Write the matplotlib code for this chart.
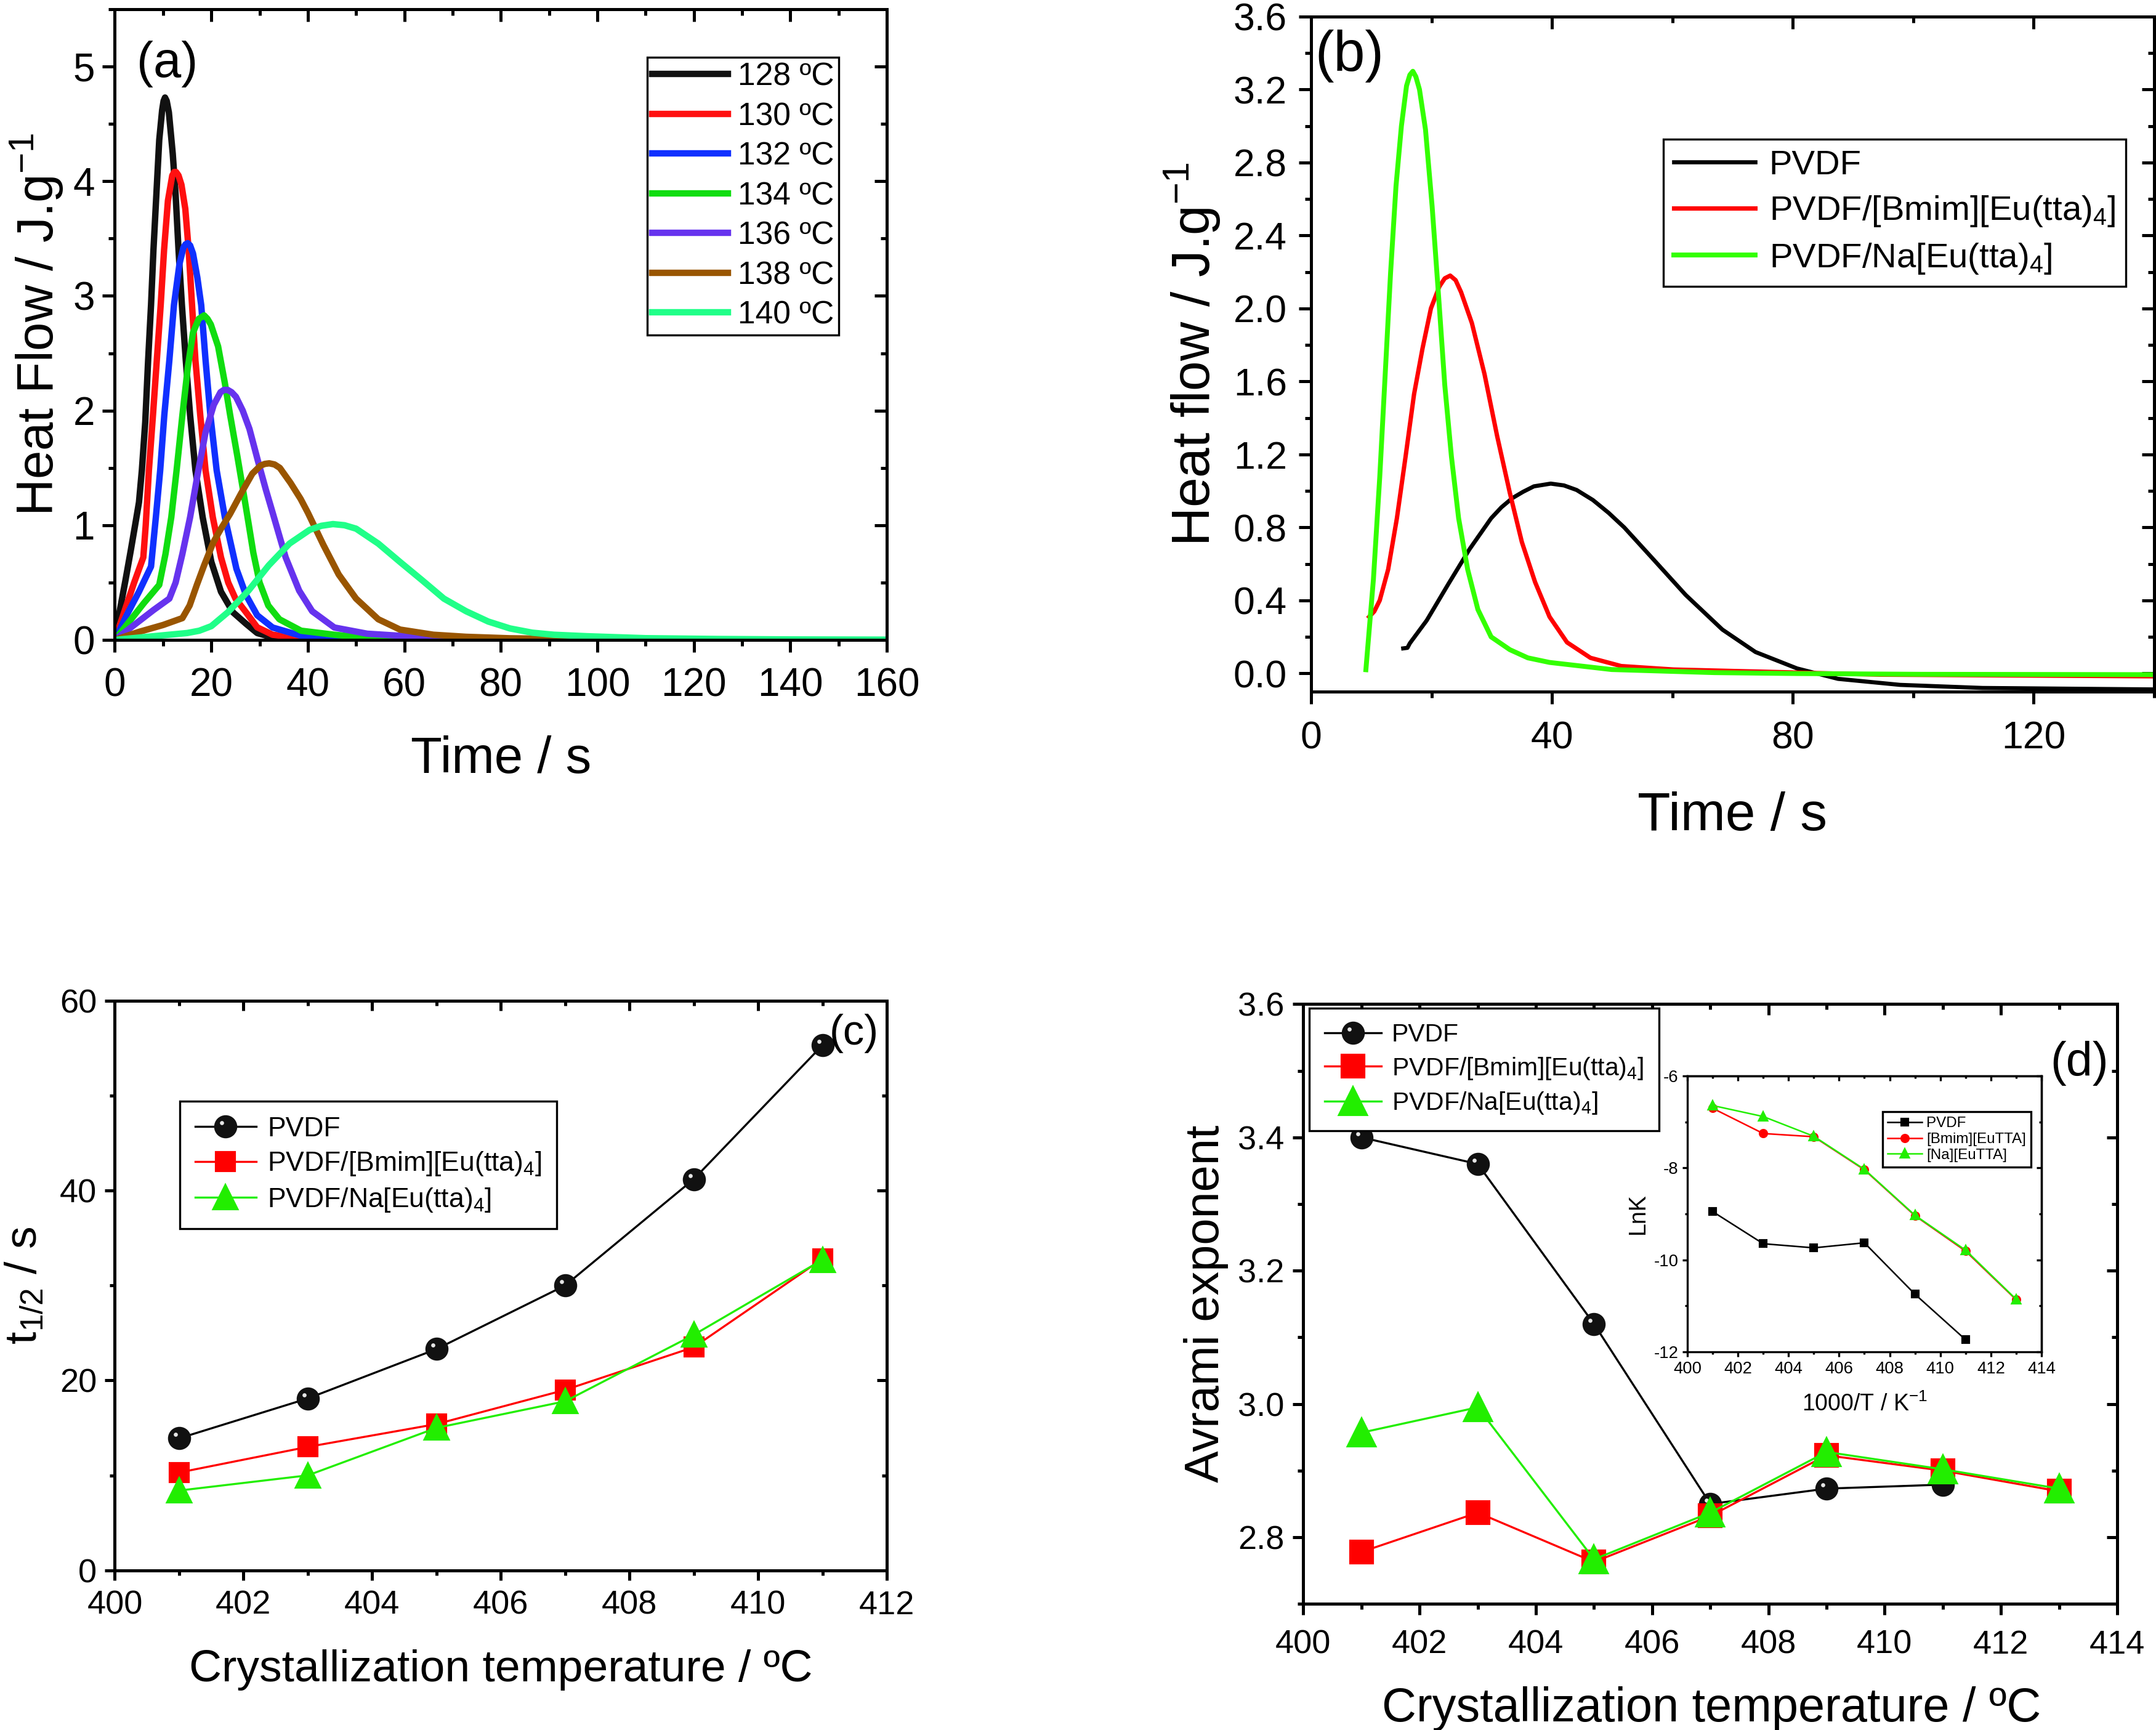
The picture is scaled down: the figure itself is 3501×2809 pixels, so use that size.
import matplotlib
matplotlib.use('Agg')
import matplotlib.pyplot as plt
from matplotlib.ticker import MultipleLocator, NullFormatter
from matplotlib.path import Path
from matplotlib.legend_handler import HandlerTuple

plt.rcParams['font.family'] = ['Liberation Sans', 'DejaVu Sans']
plt.rcParams['mathtext.fontset'] = 'custom'
plt.rcParams['mathtext.rm'] = 'Liberation Sans'
plt.rcParams['mathtext.it'] = 'Liberation Sans:italic'
plt.rcParams['mathtext.bf'] = 'Liberation Sans:bold'
plt.rcParams['mathtext.default'] = 'regular'
plt.rcParams['axes.unicode_minus'] = False

# ---- (a) isothermal DSC exotherms ----
t128 = [0, 1, 2.2, 3.3, 4.4, 5.0, 5.6, 6.3, 6.9, 7.5, 8.0, 8.6, 9.2, 9.8, 10.1, 10.4, 10.75, 11.2, 12.0, 12.6, 13.2,
        13.9, 14.7, 15.6, 16.7, 18.2, 20, 22, 24.5, 27.2, 29.5, 32.7, 40, 60, 125]
q128 = [0, 0.25, 0.52, 0.78, 1.05, 1.2, 1.48, 1.9, 2.44, 2.92, 3.4, 3.88, 4.36, 4.62, 4.7, 4.73, 4.7, 4.6, 4.24, 3.88, 3.4,
        2.92, 2.44, 1.96, 1.48, 1.07, 0.68, 0.42, 0.24, 0.14, 0.06, 0.02, 0.006, 0.002, 0]
t130 = [0, 2, 4, 5.9, 6.4, 7.06, 7.9, 8.7, 9.5, 10.2, 11.0, 11.9, 12.3, 12.7, 13.2, 13.8, 14.6, 15.3, 16.0, 16.7, 17.7,
        18.8, 20.3, 22, 23.5, 25, 27.2, 29.5, 32.7, 38.6, 50, 125]
q130 = [0, 0.25, 0.5, 0.72, 1.0, 1.48, 1.96, 2.44, 2.92, 3.4, 3.83, 4.05, 4.08, 4.08, 4.05, 3.97, 3.76, 3.4, 2.92, 2.44,
        1.96, 1.48, 1.07, 0.72, 0.5, 0.36, 0.24, 0.11, 0.045, 0.014, 0.004, 0]
t132 = [0, 2.5, 5, 7.5, 8.5, 9.4, 10.25, 11.3, 12.25, 13.4, 14.2, 14.65, 15.1, 15.6, 16.2, 17.1, 17.9, 18.8, 19.8, 21.1,
        22.8, 25.2, 27.2, 29.5, 32.7, 38.6, 45.5, 55, 125]
q132 = [0, 0.22, 0.42, 0.64, 1.07, 1.48, 1.96, 2.44, 2.92, 3.28, 3.42, 3.45, 3.46, 3.44, 3.37, 3.16, 2.92, 2.44, 1.96,
        1.48, 1.07, 0.62, 0.39, 0.215, 0.108, 0.036, 0.014, 0.005, 0]
t134 = [0, 3, 6, 9.2, 10.5, 11.7, 12.8, 14.0, 15.1, 16.2, 17.4, 18.5, 19.2, 19.9, 21.4, 22.8, 23.9, 25.4, 26.8, 27.7,
        28.7, 30, 31.8, 34.1, 38.6, 45.5, 52.3, 65, 125]
q134 = [0, 0.16, 0.32, 0.48, 0.75, 1.07, 1.48, 1.96, 2.37, 2.68, 2.80, 2.83, 2.8, 2.75, 2.56, 2.24, 1.96, 1.6, 1.25,
        1.02, 0.76, 0.5, 0.3, 0.18, 0.08, 0.045, 0.018, 0.005, 0]
t136 = [0, 4, 8, 11.3, 12.6, 14.0, 15.6, 17.1, 18.8, 20.5, 21.9, 22.6, 23.4, 24.2, 25.1, 26.5, 27.9, 29.6, 31.3, 32.7,
        35.4, 38.2, 40.9, 45.5, 52.3, 59.1, 66, 80, 125]
q136 = [0, 0.13, 0.26, 0.36, 0.5, 0.75, 1.07, 1.43, 1.81, 2.05, 2.16, 2.18, 2.18, 2.16, 2.12, 2.0, 1.84, 1.57, 1.31,
        1.11, 0.72, 0.43, 0.25, 0.108, 0.054, 0.036, 0.018, 0.005, 0]
t138 = [0, 5, 10, 14.0, 15.5, 17, 18.5, 20.4, 22, 23.9, 26.2, 28.5, 30.2, 31.1, 32.0, 33.1, 34.2, 36.4, 38.5, 40, 43.2,
        46.4, 50, 54.6, 59.1, 66, 72.8, 81.9, 91, 110, 125]
q138 = [0, 0.07, 0.13, 0.19, 0.3, 0.48, 0.65, 0.85, 0.97, 1.1, 1.28, 1.45, 1.52, 1.535, 1.54, 1.53, 1.5, 1.37, 1.23,
        1.11, 0.83, 0.57, 0.36, 0.18, 0.09, 0.045, 0.027, 0.014, 0.009, 0.004, 0]
t140 = [0, 5, 10, 15, 17.5, 20, 23.4, 27.7, 31.9, 36.2, 40.4, 42.8, 45.2, 47.6, 50, 54.6, 59.1, 63.7, 68.2, 72.8, 77.4,
        81.9, 86.5, 91, 97.9, 110, 125, 140, 160]
q140 = [0, 0.02, 0.04, 0.06, 0.08, 0.12, 0.24, 0.43, 0.65, 0.84, 0.96, 0.995, 1.01, 1.0, 0.97, 0.84, 0.68, 0.52, 0.36,
        0.25, 0.16, 0.1, 0.063, 0.045, 0.032, 0.015, 0.008, 0.004, 0.002]
a_labels = ['128 ºC', '130 ºC', '132 ºC', '134 ºC', '136 ºC', '138 ºC', '140 ºC']
a_colors = ['#111111', '#ff1010', '#1030ff', '#10dd10', '#6633ee', '#995500', '#20ff88']

# ---- (b) heat flow of the three samples ----
t_pvdf = [15.3, 16.0, 16.4, 19.2, 22.8, 26.3, 29.9, 31.6, 33.4, 35.2, 37.0, 39.8, 42.0, 44.1, 46.8, 49.4, 52.0, 56.7,
          62.2, 68.3, 73.8, 80.7, 87.5, 97.8, 111.5, 140]
q_pvdf = [0.137, 0.14, 0.165, 0.29, 0.49, 0.68, 0.85, 0.91, 0.96, 0.995, 1.025, 1.04, 1.03, 1.005, 0.95, 0.88, 0.8,
          0.63, 0.43, 0.24, 0.117, 0.027, -0.03, -0.063, -0.08, -0.088]
t_bmim = [9.65, 10.5, 11.4, 12.8, 14.25, 15.7, 17.1, 18.5, 19.9, 21.3, 22.2, 23.1, 24.0, 24.9, 26.7, 28.8, 30.9, 33.0,
          35.0, 37.2, 39.6, 42.5, 46.4, 51.5, 60.2, 73.9, 94.5, 140]
q_bmim = [0.31, 0.34, 0.4, 0.57, 0.85, 1.19, 1.53, 1.78, 2.0, 2.12, 2.165, 2.18, 2.155, 2.09, 1.92, 1.64, 1.3, 0.99,
          0.72, 0.5, 0.31, 0.17, 0.085, 0.04, 0.021, 0.01, -0.007, -0.016]
t_na = [9.1, 10.35, 11.4, 12.3, 13.2, 14.1, 15.0, 15.85, 16.4, 16.9, 17.4, 18.0, 19.0, 20.1, 21.2, 22.2, 23.3, 24.5,
        26.0, 27.7, 29.9, 33.0, 36.0, 39.6, 49.9, 67, 80.7, 101.3, 140]
q_na = [0.02, 0.515, 1.075, 1.635, 2.195, 2.67, 3.0, 3.22, 3.28, 3.3, 3.27, 3.2, 2.98, 2.56, 2.055, 1.58, 1.19, 0.85,
        0.57, 0.35, 0.2, 0.13, 0.085, 0.06, 0.021, 0.004, -0.001, -0.005, -0.007]
samples = ['PVDF', 'PVDF/[Bmim][Eu(tta)$_4$]', 'PVDF/Na[Eu(tta)$_4$]']

# ---- (c) half-time of crystallization ----
tc_c = [401, 403, 405, 407, 409, 411]
thalf_pvdf = [13.9, 18.1, 23.3, 30.0, 41.2, 55.3]
thalf_bmim = [10.3, 13.0, 15.4, 19.0, 23.5, 32.8]
thalf_na = [8.4, 10.0, 15.0, 17.8, 24.8, 32.7]

# ---- (d) Avrami exponent and inset lnK ----
tc_pvdf = [401, 403, 405, 407, 409, 411]
tc_d = [401, 403, 405, 407, 409, 411, 413]
n_pvdf = [3.40, 3.36, 3.12, 2.85, 2.873, 2.879]
n_bmim = [2.778, 2.837, 2.763, 2.832, 2.923, 2.90, 2.869]
n_na = [2.957, 2.995, 2.767, 2.837, 2.928, 2.902, 2.873]
lnk_pvdf = [-8.95, -9.65, -9.74, -9.63, -10.75, -11.74]
lnk_bmim = [-6.70, -7.25, -7.32, -8.04, -9.04, -9.81, -10.87]
lnk_na = [-6.64, -6.88, -7.31, -8.03, -9.03, -9.79, -10.86]
inset_labels = ['PVDF', '[Bmim][EuTTA]', '[Na][EuTTA]']

RED = '#ff0000'
LIME = '#22ee00'

# small white glint on the black "sphere" markers
glint = Path.make_compound_path(Path([(-1, -1), (1, 1)], [Path.MOVETO, Path.MOVETO]),
                                Path.circle((-0.36, 0.36), 0.2))


def frame(ax, xmaj, xmin, ymaj, ymin, size, tl, lw, xpad, ypad):
    for s in ax.spines.values():
        s.set_linewidth(lw)
    ax.xaxis.set_major_locator(MultipleLocator(xmaj))
    ax.xaxis.set_minor_locator(MultipleLocator(xmin))
    ax.yaxis.set_major_locator(MultipleLocator(ymaj))
    ax.yaxis.set_minor_locator(MultipleLocator(ymin))
    ax.tick_params(which='both', direction='out', width=lw, labelsize=size)
    ax.tick_params(which='major', length=tl)
    ax.tick_params(which='minor', length=tl / 2)
    ax.tick_params(axis='x', pad=xpad)
    ax.tick_params(axis='y', pad=ypad)
    top = ax.secondary_xaxis('top')
    top.xaxis.set_major_locator(MultipleLocator(xmaj))
    top.xaxis.set_minor_locator(MultipleLocator(xmin))
    top.xaxis.set_major_formatter(NullFormatter())
    right = ax.secondary_yaxis('right')
    right.yaxis.set_major_locator(MultipleLocator(ymaj))
    right.yaxis.set_minor_locator(MultipleLocator(ymin))
    right.yaxis.set_major_formatter(NullFormatter())
    for sec in (top, right):
        sec.tick_params(which='both', direction='in', width=lw)
        sec.tick_params(which='major', length=tl)
        sec.tick_params(which='minor', length=tl / 2)
        for s in sec.spines.values():
            s.set_linewidth(lw)


def box_legend(ax, handles, labels, anchor, fs, hl, ls, bp, **kw):
    leg = ax.legend(handles, labels, loc='upper left', bbox_to_anchor=anchor, borderaxespad=0,
                    fancybox=False, edgecolor='black', framealpha=1, fontsize=fs,
                    handlelength=hl, labelspacing=ls, borderpad=bp, **kw)
    leg.get_frame().set_linewidth(0.8)
    return leg


fig = plt.figure(figsize=(3501 / 300, 2809 / 300), dpi=300)

# ---------------- (a) ----------------
ax = fig.add_axes([0.05327, 0.63012, 0.35804, 0.36454])
curves = [(t128, q128), (t130, q130), (t132, q132), (t134, q134), (t136, q136), (t138, q138), (t140, q140)]
for (tt, qq), lab, col in zip(curves, a_labels, a_colors):
    ax.plot(tt, qq, color=col, lw=2.5, label=lab, solid_joinstyle='round')
ax.set_xlim(0, 160)
ax.set_ylim(0, 5.5)
frame(ax, 20, 10, 1, 0.5, 15.3, 4.8, 1.2, 6, 3)
ax.set_xlabel('Time / s', fontsize=20)
ax.set_ylabel('Heat Flow / J.g$^{-1}$', fontsize=20)
ax.xaxis.set_label_coords(0.5, -0.151)
ax.yaxis.set_label_coords(-0.064, 0.5)
ax.text(0.028, 0.913, '(a)', transform=ax.transAxes, fontsize=19.5, ha='left', va='center')
h, l = ax.get_legend_handles_labels()
box_legend(ax, h, l, (0.69, 0.924), 12.4, 2.38, 0.30, 0.15, handletextpad=0.3)

# ---------------- (b) ----------------
ax = fig.add_axes([0.60811, 0.60022, 0.39103, 0.39024])
l1, = ax.plot(t_pvdf, q_pvdf, color='black', lw=1.6, solid_joinstyle='round')
l2, = ax.plot(t_bmim, q_bmim, color=RED, lw=1.7, solid_joinstyle='round')
l3, = ax.plot(t_na, q_na, color='#33ff00', lw=1.9, solid_joinstyle='round')
ax.set_xlim(0, 140)
ax.set_ylim(-0.1, 3.6)
frame(ax, 40, 20, 0.4, 0.2, 15, 4.8, 1.2, 6.4, 4.6)
ax.set_xlabel('Time / s', fontsize=21)
ax.set_ylabel('Heat flow / J.g$^{-1}$', fontsize=21)
ax.xaxis.set_label_coords(0.5, -0.148)
ax.yaxis.set_label_coords(-0.105, 0.5)
ax.text(0.005, 0.941, '(b)', transform=ax.transAxes, fontsize=22, ha='left', va='center')
box_legend(ax, [l1, l2, l3], samples, (0.418, 0.818), 13.5, 2.35, 0.36, 0.3, handletextpad=0.4)

# ---------------- (c) ----------------
ax = fig.add_axes([0.05327, 0.09231, 0.35804, 0.32930])
c1, = ax.plot(tc_c, thalf_pvdf, color='black', lw=0.8, marker='o', ms=8, mfc='#111111', mec='#111111')
c1g, = ax.plot(tc_c, thalf_pvdf, ls='none', marker=glint, ms=8, mfc='#e6e6e6', mew=0)
c2, = ax.plot(tc_c, thalf_bmim, color=RED, lw=0.8, marker='s', ms=7, mfc=RED, mec=RED)
c3, = ax.plot(tc_c, thalf_na, color=LIME, lw=0.8, marker='^', ms=9, mfc=LIME, mec=LIME)
ax.set_xlim(400, 412)
ax.set_ylim(0, 60)
frame(ax, 2, 1, 20, 10, 13, 3.84, 1.2, 3.9, 3.2)
ax.set_xlabel('Crystallization temperature / ºC', fontsize=17.6)
ax.set_ylabel('t$_{1/2}$ / s', fontsize=17.6)
ax.xaxis.set_label_coords(0.5, -0.139)
ax.yaxis.set_label_coords(-0.09, 0.5)
ax.text(0.926, 0.942, '(c)', transform=ax.transAxes, fontsize=16.5, ha='left', va='center')
box_legend(ax, [(c1, c1g), c2, c3], samples, (0.0842, 0.823), 10.7, 2.24, 0.3, 0.55,
           handletextpad=0.4, handler_map={tuple: HandlerTuple(ndivide=1)})

# ---------------- (d) ----------------
ax = fig.add_axes([0.60452, 0.07287, 0.37749, 0.34674])
d1, = ax.plot(tc_pvdf, n_pvdf, color='black', lw=0.8, marker='o', ms=8, mfc='#111111', mec='#111111')
d1g, = ax.plot(tc_pvdf, n_pvdf, ls='none', marker=glint, ms=8, mfc='#e6e6e6', mew=0)
d2, = ax.plot(tc_d, n_bmim, color=RED, lw=0.8, marker='s', ms=8.5, mfc=RED, mec=RED)
d3, = ax.plot(tc_d, n_na, color=LIME, lw=0.8, marker='^', ms=10.5, mfc=LIME, mec=LIME)
ax.set_xlim(400, 414)
ax.set_ylim(2.7, 3.6)
frame(ax, 2, 1, 0.2, 0.1, 13, 4.2, 1.2, 5.8, 3.3)
ax.set_xlabel('Crystallization temperature / ºC', fontsize=18.6)
ax.set_ylabel('Avrami exponent', fontsize=18.6)
ax.xaxis.set_label_coords(0.5016, -0.1377)
ax.yaxis.set_label_coords(-0.092, 0.5)
ax.text(0.9175, 0.901, '(d)', transform=ax.transAxes, fontsize=18.6, ha='left', va='center')
box_legend(ax, [(d1, d1g), d2, d3], samples, (0.0073, 0.9934), 9.8, 2.27, 0.35, 0.6,
           handletextpad=0.4, handler_map={tuple: HandlerTuple(ndivide=1)})

# inset: lnK
ins = fig.add_axes([0.78263, 0.21872, 0.16424, 0.15924])
ins.plot(tc_pvdf, lnk_pvdf, color='black', lw=0.6, marker='s', ms=2.4, label=inset_labels[0])
ins.plot(tc_d, lnk_bmim, color=RED, lw=0.6, marker='o', ms=2.6, label=inset_labels[1])
ins.plot(tc_d, lnk_na, color=LIME, lw=0.6, marker='^', ms=3.0, label=inset_labels[2])
ins.set_xlim(400, 414)
ins.set_ylim(-12, -6)
frame(ins, 2, 1, 2, 1, 6.6, 1.9, 0.8, 1.8, 1.6)
ins.set_xlabel('1000/T / K$^{-1}$', fontsize=9)
ins.set_ylabel('LnK', fontsize=9)
ins.xaxis.set_label_coords(0.501, -0.15)
ins.yaxis.set_label_coords(-0.108, 0.5)
h, l = ins.get_legend_handles_labels()
box_legend(ins, h, l, (0.551, 0.871), 5.8, 2.3, 0.15, 0.35, handletextpad=0.3)

fig.savefig('out.png', dpi=300)
